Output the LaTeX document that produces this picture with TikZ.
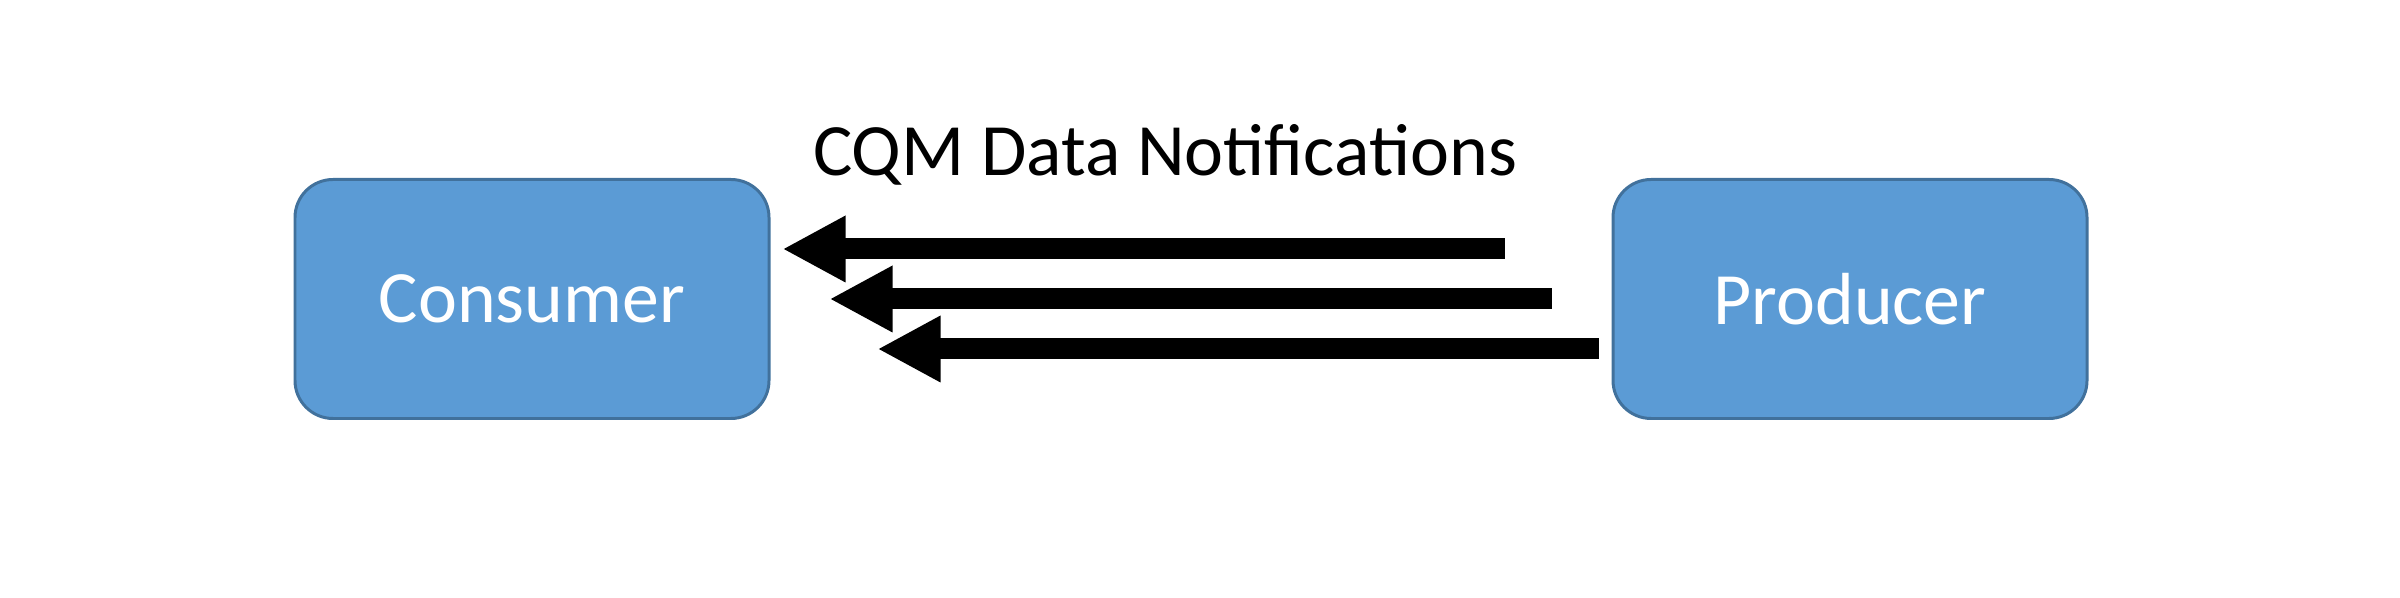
\documentclass[tikz,border=0pt]{standalone}
\usepackage{fontspec}
\setmainfont{Carlito}
\usepackage{xcolor}
\usetikzlibrary{positioning,calc,arrows.meta}
\definecolor{boxfill}{HTML}{5B9BD5}
\definecolor{boxline}{HTML}{41719C}

\begin{document}
\begin{tikzpicture}[
    party/.style={draw=boxline, fill=boxfill, line width=0.85pt, rounded corners=0.38cm,
        minimum width=4.74cm, minimum height=2.39cm, text=white, font=\fontsize{21}{25}\selectfont},
    notif/.style={line width=0.21cm, -{Triangle[length=0.63cm, width=0.62cm]}}
]
    \useasboundingbox (0,0) rectangle (24,5.98);

    % Consumer and Producer
    \node[party] (cons) at (5.32,2.99) {Consumer};
    \node[party] (prod) at (18.50,2.99) {Producer};

    % Label
    \node[anchor=base, font=\fontsize{21}{25}\selectfont] (title) at (11.65,4.22) {CQM Data Notifications};

    % Notifications
    \draw[notif, shorten <=1.07cm, shorten >=0.12cm] ([yshift=0.50cm]prod.west) -- ([yshift=0.50cm]cons.east);
    \draw[notif, shorten <=0.60cm, shorten >=0.59cm] (prod.west) -- (cons.east);
    \draw[notif, shorten <=0.13cm, shorten >=1.07cm] ([yshift=-0.50cm]prod.west) -- ([yshift=-0.50cm]cons.east);
\end{tikzpicture}
\end{document}
